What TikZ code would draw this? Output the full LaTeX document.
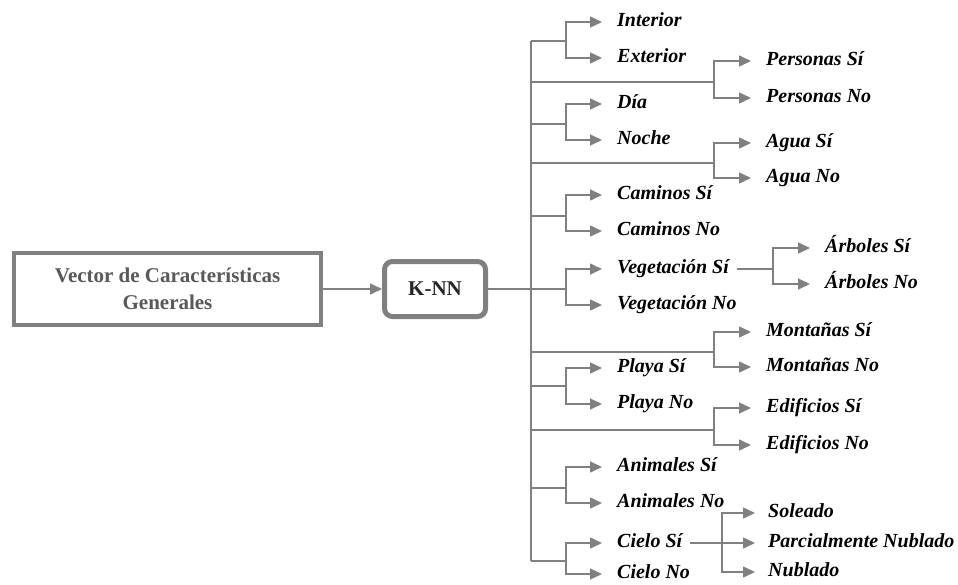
\documentclass[tikz,border=0pt]{standalone}
\usepackage{fontspec}
\setmainfont{Liberation Serif}
\usetikzlibrary{arrows.meta,shadows}
\definecolor{linegray}{HTML}{808080}
\definecolor{boxtext}{HTML}{595959}
\tikzset{
  conn/.style={draw=linegray, line width=1.5pt},
  tip/.style={-{Triangle[length=12pt,width=11pt]}},
  arr/.style={conn, tip, shorten >=15pt},
  lbl/.style={anchor=west, inner sep=0pt, text height=13pt, text depth=4pt,
    font=\fontsize{20}{23}\selectfont\bfseries\itshape},
  mainbox/.style={draw=linegray, fill=white, line width=4pt, minimum width=307pt,
    minimum height=72pt, align=center, text=boxtext,
    font=\fontsize{21}{27}\selectfont\bfseries,
    drop shadow={shadow xshift=1.5pt, shadow yshift=-1.5pt, opacity=0.25}},
  knnbox/.style={draw=linegray, line width=5pt, rounded corners=8pt, fill=white,
    minimum width=101pt, minimum height=55pt, text=black!85,
    font=\fontsize{21}{24}\selectfont\bfseries,
    drop shadow={shadow xshift=2pt, shadow yshift=-2pt, opacity=0.35}},
}
\begin{document}
\begin{tikzpicture}[x=1pt,y=-1pt]
\useasboundingbox (0,0) rectangle (958,584);

% input and classifier
\node[mainbox] (vec) at (167.5,289) {Vector de Características\\Generales};
\node[knnbox] (knn) at (435,289) {K-NN};
\draw[conn, tip] (vec) -- (knn);

% spine
\coordinate (top) at (531,41);
\coordinate (bot) at (531,561);
\draw[conn] (top) -- (bot);

% junctions
\coordinate (j1) at (566,41);
\coordinate (j2) at (714,82);
\coordinate (j3) at (566,124);
\coordinate (j4) at (714,163);
\coordinate (j5) at (566,216);
\coordinate (j6) at (566,289);
\coordinate (j7) at (714,352);
\coordinate (j8) at (566,386);
\coordinate (j9) at (714,430);
\coordinate (j10) at (566,488);
\coordinate (j11) at (566,561);
\coordinate (ja) at (773,269);
\coordinate (jc) at (722,543);

\foreach \j in {j1,j2,j3,j4,j5,j7,j8,j9,j10,j11}
  \draw[conn] (top |- \j) -- (\j);
\draw[conn] (knn) -- (j6);

% labels
\node[lbl] (int) at (617,22) {Interior};
\node[lbl] (ext) at (617,58) {Exterior};
\node[lbl] (pes) at (766,61) {Personas Sí};
\node[lbl] (pno) at (766,98) {Personas No};
\node[lbl] (dia) at (617,104) {Día};
\node[lbl] (noc) at (617,140) {Noche};
\node[lbl] (ags) at (766,143) {Agua Sí};
\node[lbl] (agn) at (766,178) {Agua No};
\node[lbl] (cas) at (617,195) {Caminos Sí};
\node[lbl] (can) at (617,231) {Caminos No};
\node[lbl] (ves) at (617,269) {Vegetación Sí};
\node[lbl] (ven) at (617,305) {Vegetación No};
\node[lbl] (ars) at (825,248) {Árboles Sí};
\node[lbl] (arn) at (825,284) {Árboles No};
\node[lbl] (mos) at (766,332) {Montañas Sí};
\node[lbl] (mon) at (766,367) {Montañas No};
\node[lbl] (pls) at (617,368) {Playa Sí};
\node[lbl] (pln) at (617,404) {Playa No};
\node[lbl] (eds) at (766,408) {Edificios Sí};
\node[lbl] (edn) at (766,445) {Edificios No};
\node[lbl] (ans) at (617,467) {Animales Sí};
\node[lbl] (ann) at (617,503) {Animales No};
\node[lbl] (cis) at (617,543) {Cielo Sí};
\node[lbl] (cin) at (617,574) {Cielo No};
\node[lbl] (sol) at (768,513) {Soleado};
\node[lbl] (par) at (768,543) {Parcialmente Nublado};
\node[lbl] (nub) at (768,572) {Nublado};

% branch arrows
\draw[arr] (j1) |- (int);  \draw[arr] (j1) |- (ext);
\draw[arr] (j2) |- (pes);  \draw[arr] (j2) |- (pno);
\draw[arr] (j3) |- (dia);  \draw[arr] (j3) |- (noc);
\draw[arr] (j4) |- (ags);  \draw[arr] (j4) |- (agn);
\draw[arr] (j5) |- (cas);  \draw[arr] (j5) |- (can);
\draw[arr] (j6) |- (ves);  \draw[arr] (j6) |- (ven);
\draw[arr] (j7) |- (mos);  \draw[arr] (j7) |- (mon);
\draw[arr] (j8) |- (pls);  \draw[arr] (j8) |- (pln);
\draw[arr] (j9) |- (eds);  \draw[arr] (j9) |- (edn);
\draw[arr] (j10) |- (ans); \draw[arr] (j10) |- (ann);
\draw[arr] (j11) |- (cis); \draw[arr] (j11) |- (cin);

% second-level branches
\draw[conn] ([xshift=8pt]ves.east) -- (ja);
\draw[arr] (ja) |- (ars); \draw[arr] (ja) |- (arn);
\draw[conn] ([xshift=8pt]cis.east) -- (jc);
\draw[arr, shorten >=13pt] (jc) |- (sol);
\draw[arr, shorten >=13pt] (jc) -- (par);
\draw[arr, shorten >=13pt] (jc) |- (nub);
\end{tikzpicture}
\end{document}
